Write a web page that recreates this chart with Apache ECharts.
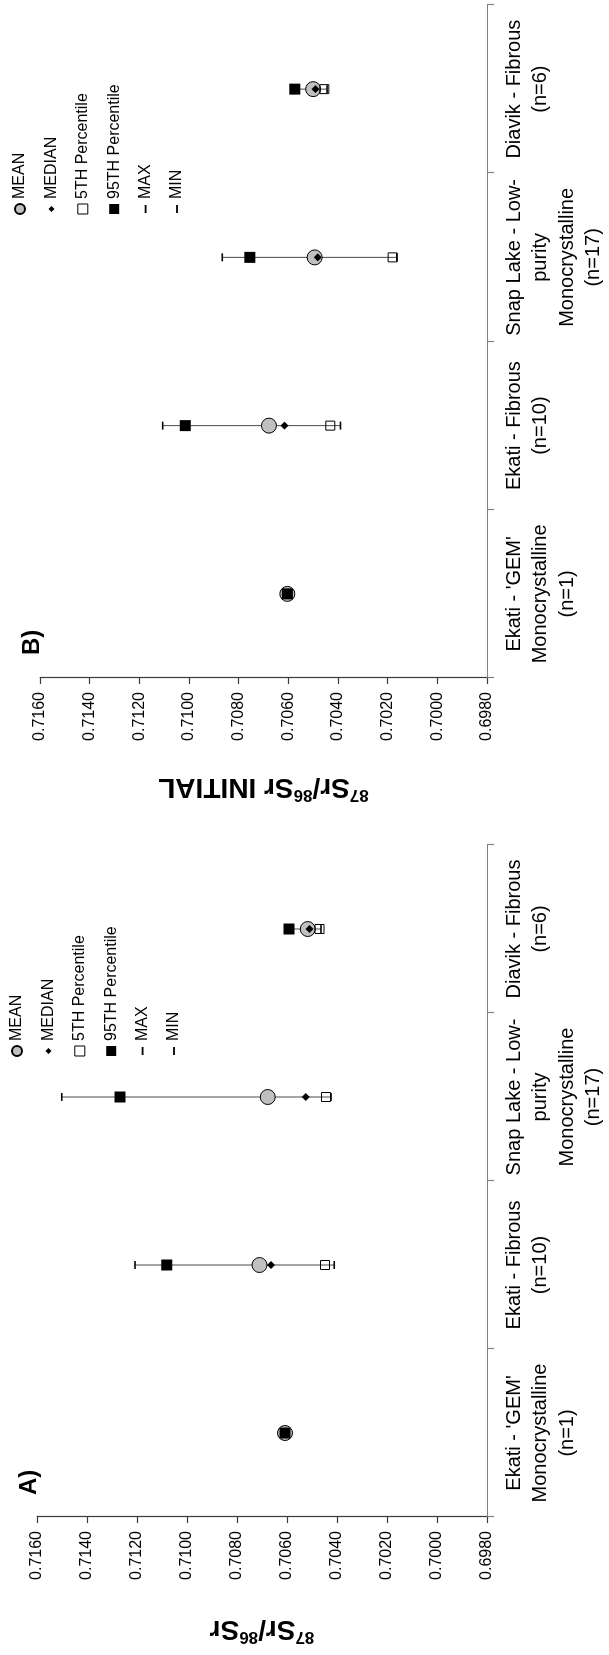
<!DOCTYPE html>
<html>
<head>
<meta charset="utf-8">
<script src="https://cdn.jsdelivr.net/npm/echarts@6/dist/echarts.min.js"></script>
<style>
html,body{margin:0;padding:0;background:#fff;overflow:hidden;width:609px;height:1655px;}
#wrap{position:absolute;left:0;top:0;width:1655px;height:609px;transform-origin:0 0;transform:translate(0,1655px) rotate(-90deg);}
</style>
</head>
<body>
<div id="wrap"></div>
<script>
// ---- data ----
const categories = [
  "Ekati - 'GEM'\nMonocrystalline\n(n=1)",
  "Ekati - Fibrous\n(n=10)",
  "Snap Lake - Low-\npurity\nMonocrystalline\n(n=17)",
  "Diavik - Fibrous\n(n=6)"
];
const yMin = 0.6980, yMax = 0.7160, yStep = 0.0020;

// Panel A: 87Sr/86Sr
const meanA   = [0.70608, 0.70710, 0.70677, 0.70517];
const medianA = [0.70608, 0.70664, 0.70525, 0.70510];
const p5A     = [0.70608, 0.70448, 0.70444, 0.70470];
const p95A    = [0.70608, 0.71081, 0.71268, 0.70592];
const maxA    = [0.70608, 0.71208, 0.71501, 0.70600];
const minA    = [0.70608, 0.70411, 0.70424, 0.70464];

// Panel B: 87Sr/86Sr INITIAL
const meanB   = [0.70604, 0.70678, 0.70494, 0.70500];
const medianB = [0.70604, 0.70615, 0.70482, 0.70491];
const p5B     = [0.70604, 0.70431, 0.70180, 0.70455];
const p95B    = [0.70604, 0.71015, 0.70755, 0.70574];
const maxB    = [0.70604, 0.71106, 0.70866, 0.70580];
const minB    = [0.70604, 0.70390, 0.70163, 0.70444];

const legendNames = ['MEAN', 'MEDIAN', '5TH Percentile', '95TH Percentile', 'MAX', 'MIN'];
const titleA = '{sup|87}{b|Sr/}{sup|86}{b|Sr}';
const titleB = '{sup|87}{b|Sr/}{sup|86}{b|Sr INITIAL}';

// ---- chart ----
const FONT = "'Liberation Sans', Arial, Helvetica, sans-serif";
const chart = echarts.init(document.getElementById('wrap'), null, {renderer: 'canvas'});

function panelSeries(k, mean, median, p5, p95, mx, mn) {
  const errData = categories.map((c, i) => [i, mn[i], mx[i]]);
  return [
    {
      type: 'custom', name: 'range', xAxisIndex: k, yAxisIndex: k, z: 1,
      data: errData,
      encode: {x: 0, y: [1, 2]},
      renderItem: function (params, api) {
        const x = api.value(0);
        const a = api.coord([x, api.value(1)]);
        const b = api.coord([x, api.value(2)]);
        return {type: 'line', shape: {x1: a[0], y1: a[1], x2: b[0], y2: b[1]},
                style: {stroke: '#4a4a4a', lineWidth: 1}};
      }
    },
    {type: 'scatter', name: 'MEAN', xAxisIndex: k, yAxisIndex: k, z: 3, data: mean,
     symbol: 'circle', symbolSize: 15,
     itemStyle: {color: '#c0c0c0', borderColor: '#000', borderWidth: 1, opacity: 1}},
    {type: 'scatter', name: 'MEDIAN', xAxisIndex: k, yAxisIndex: k, z: 4, data: median,
     symbol: 'diamond', symbolSize: 8,
     itemStyle: {color: '#000', opacity: 1}},
    {type: 'scatter', name: '5TH Percentile', xAxisIndex: k, yAxisIndex: k, z: 5, data: p5,
     symbol: 'rect', symbolSize: 9,
     itemStyle: {color: 'rgba(255,255,255,0)', borderColor: '#000', borderWidth: 1, opacity: 1}},
    {type: 'scatter', name: '95TH Percentile', xAxisIndex: k, yAxisIndex: k, z: 6, data: p95,
     symbol: 'rect', symbolSize: 11,
     itemStyle: {color: '#000', opacity: 1}},
    {type: 'scatter', name: 'MAX', xAxisIndex: k, yAxisIndex: k, z: 7, data: mx,
     symbol: 'rect', symbolSize: [8, 1.6],
     itemStyle: {color: '#000', opacity: 1}},
    {type: 'scatter', name: 'MIN', xAxisIndex: k, yAxisIndex: k, z: 7, data: mn,
     symbol: 'rect', symbolSize: [8, 1.6],
     itemStyle: {color: '#000', opacity: 1}}
  ];
}

function legendFor(left, top) {
  return {
    orient: 'vertical', left: left, top: top, selectedMode: false,
    itemWidth: 10, itemHeight: 10, itemGap: 15.4, padding: 0,
    textStyle: {fontFamily: FONT, fontSize: 16, color: '#000', lineHeight: 16},
    data: [
      {name: 'MEAN', icon: 'circle'},
      {name: 'MEDIAN', icon: 'path://M0,0M10,10M5,2L8,5L5,8L2,5Z'},
      {name: '5TH Percentile', icon: 'rect', itemStyle: {color: '#fff', borderColor: '#000', borderWidth: 1}},
      {name: '95TH Percentile', icon: 'rect'},
      {name: 'MAX', icon: 'path://M0,0M10,10M1,4.1H9V5.9H1Z'},
      {name: 'MIN', icon: 'path://M0,0M10,10M1,4.1H9V5.9H1Z'}
    ]
  };
}

function xAxisFor(k) {
  return {
    type: 'category', gridIndex: k, data: categories, position: 'bottom',
    boundaryGap: true,
    axisLine: {show: true, lineStyle: {color: '#808080', width: 1.2}},
    axisTick: {show: true, length: 7, inside: false, lineStyle: {color: '#808080', width: 1.2}},
    axisLabel: {interval: 0, margin: 14, color: '#000', fontFamily: FONT, fontSize: 20, lineHeight: 26.5, align: 'center'},
    splitLine: {show: false}
  };
}

function yAxisFor(k, name, gap) {
  return {
    type: 'value', gridIndex: k, min: yMin, max: yMax, interval: yStep,
    name: name, nameLocation: 'middle', nameRotate: 90, nameGap: gap,
    nameTextStyle: {
      fontFamily: FONT, color: '#000',
      rich: {
        b: {fontFamily: FONT, fontSize: 28, fontWeight: 'bold', color: '#000', lineHeight: 30, verticalAlign: 'bottom'},
        sup: {fontFamily: FONT, fontSize: 17, fontWeight: 'bold', color: '#000', lineHeight: 30, verticalAlign: 'top', padding: [0, 0, 12, 0]}
      }
    },
    axisLine: {show: true, lineStyle: {color: '#3a3a3a', width: 1.2}},
    axisTick: {show: true, length: 6, inside: false, lineStyle: {color: '#3a3a3a', width: 1.2}},
    axisLabel: {margin: 14, color: '#000', fontFamily: FONT, fontSize: 16,
                formatter: v => v.toFixed(4)},
    splitLine: {show: false}
  };
}

const option = {
  backgroundColor: '#fff',
  animation: false,
  title: [
    {text: 'A)', left: 160, top: 17, textStyle: {fontFamily: FONT, fontSize: 24, fontWeight: 'bold', color: '#000'}, padding: 0},
    {text: 'B)', left: 1000, top: 20, textStyle: {fontFamily: FONT, fontSize: 24, fontWeight: 'bold', color: '#000'}, padding: 0}
  ],
  legend: [legendFor(598, 9), legendFor(1440, 12)],
  grid: [
    {left: 138, top: 37, width: 672, height: 450, containLabel: false},
    {left: 977, top: 40, width: 673, height: 447, containLabel: false}
  ],
  xAxis: [xAxisFor(0), xAxisFor(1)],
  yAxis: [yAxisFor(0, titleA, 98), yAxisFor(1, titleB, 95)],
  series: [].concat(
    panelSeries(0, meanA, medianA, p5A, p95A, maxA, minA),
    panelSeries(1, meanB, medianB, p5B, p95B, maxB, minB)
  )
};
chart.setOption(option);
</script>
</body>
</html>
